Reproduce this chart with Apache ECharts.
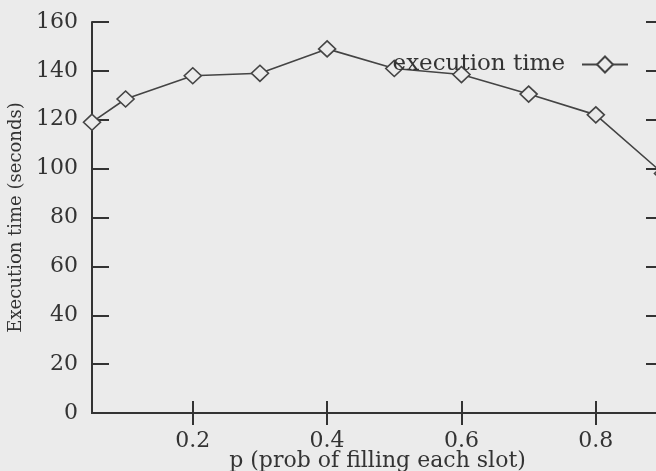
<!DOCTYPE html>
<html>
<head>
<meta charset="utf-8">
<script src="https://cdn.jsdelivr.net/npm/echarts@6/dist/echarts.min.js"></script>
<style>
  html, body { margin: 0; padding: 0; background: #ebebeb; overflow: hidden; }
  /* the scanned figure is cut off on the right, so the chart runs past the window */
  #chart { width: 680px; height: 471px; }
</style>
</head>
<body>
<div id="chart"></div>
<script>
// data
const pValues = [0.05, 0.1, 0.2, 0.3, 0.4, 0.5, 0.6, 0.7, 0.8, 0.9];
const execTime = [119, 128.5, 138, 139, 149, 141, 138.5, 130.5, 122, 98];
const xTicks = [0.2, 0.4, 0.6, 0.8];
const seriesName = 'execution time';

const INK = '#333333';
const LINE = '#444444';
const FONT = '"DejaVu Serif", "Liberation Serif", serif';

const chart = echarts.init(document.getElementById('chart'));

const tickX = { show: true, inside: true, length: 12, customValues: xTicks, lineStyle: { color: INK, width: 2 } };
const tickY = { show: true, inside: true, length: 17, lineStyle: { color: INK, width: 2 } };

const option = {
  backgroundColor: '#ebebeb',
  animation: false,
  grid: { left: 92, top: 22, right: 17, bottom: 58, outerBoundsMode: 'none' },
  legend: {
    data: [seriesName],
    right: 46, top: 48,
    align: 'right',
    itemWidth: 46, itemHeight: 20,
    textStyle: { fontFamily: FONT, fontSize: 23, color: INK, padding: [0, 12, 0, 0] },
  },
  xAxis: [
    {
      type: 'value', min: 0.05, max: 0.9,
      name: 'p (prob of filling each slot)',
      nameLocation: 'middle', nameGap: 48, nameMoveOverlap: false,
      nameTextStyle: { fontFamily: FONT, fontSize: 22, color: INK, verticalAlign: 'middle' },
      axisLine: { lineStyle: { color: INK, width: 2 } },
      axisTick: tickX,
      axisLabel: { customValues: xTicks, margin: 17, fontFamily: FONT, fontSize: 22, color: INK },
      splitLine: { show: false },
    },
    {
      type: 'value', min: 0.05, max: 0.9, position: 'top',
      axisLine: { lineStyle: { color: INK, width: 2 } },
      axisTick: tickX,
      axisLabel: { show: false },
      splitLine: { show: false },
    },
  ],
  yAxis: [
    {
      type: 'value', min: 0, max: 160, interval: 20,
      name: 'Execution time (seconds)',
      nameLocation: 'middle', nameGap: 56,
      nameTextStyle: { fontFamily: FONT, fontSize: 18, color: INK },
      axisLine: { show: true, lineStyle: { color: INK, width: 2 } },
      axisTick: tickY,
      axisLabel: { margin: 14, fontFamily: FONT, fontSize: 22, color: INK },
      splitLine: { show: false },
    },
    {
      type: 'value', min: 0, max: 160, interval: 20, position: 'right',
      axisLine: { show: true, lineStyle: { color: INK, width: 2 } },
      axisTick: tickY,
      axisLabel: { show: false },
      splitLine: { show: false },
    },
  ],
  series: [{
    name: seriesName,
    type: 'line',
    data: pValues.map((p, i) => [p, execTime[i]]),
    symbol: 'diamond',
    symbolSize: [17, 16],
    lineStyle: { color: LINE, width: 1.6 },
    itemStyle: { color: '#ebebeb', borderColor: LINE, borderWidth: 1.6 },
  }],
};

chart.setOption(option);
</script>
</body>
</html>
